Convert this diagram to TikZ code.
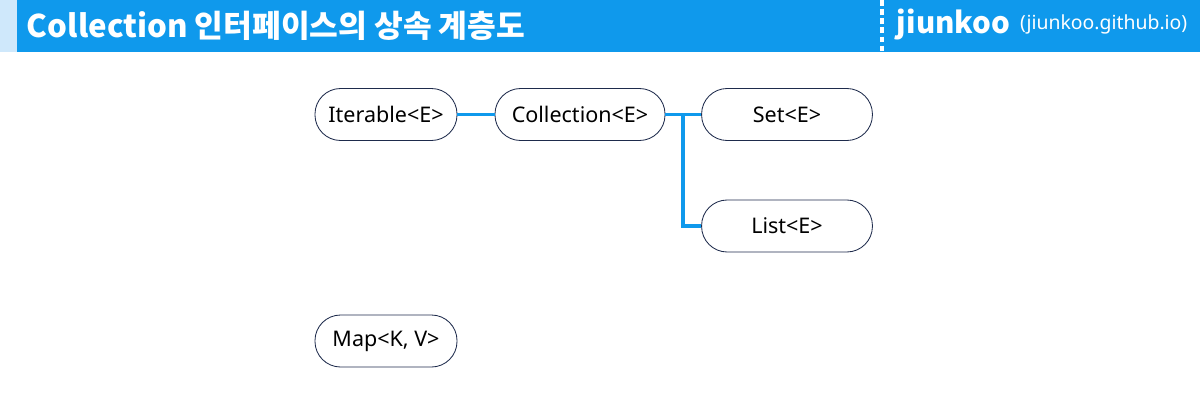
\documentclass[tikz,border=0pt]{standalone}
\usepackage{fontspec}
\setmainfont{Noto Sans}
\newfontfamily\krfont{Noto Sans CJK KR}
\usepackage{tikz}
\definecolor{barblue}{HTML}{0F99EC}
\definecolor{stripblue}{HTML}{CFE8FB}
\definecolor{edgenavy}{HTML}{1E2B4C}

\begin{document}
\begin{tikzpicture}[x=0.025cm, y=-0.025cm,
    ifc/.style = {draw=edgenavy, line width=0.6pt, rounded corners=0.64cm, minimum width=3.55cm, minimum height=1.3cm, font=\fontsize{15.3}{18}\selectfont},
    link/.style = {barblue, line width=2.7pt}]
	\useasboundingbox (0,0) rectangle (1200,414);
	\fill[stripblue] (0,0) rectangle (17,52);
	\fill[barblue] (17,0) rectangle (1200,52);
	\draw[white, line width=2.2pt, dash pattern=on 4pt off 2.5pt] (882,0) -- (882,52);
	\node[anchor=west, text=white, font=\krfont\bfseries\fontsize{22.2}{26}\selectfont] (title) at (22,26) {Collection 인터페이스의 상속 계층도};
	\node[anchor=west, text=white, font=\krfont\bfseries\fontsize{21}{25}\selectfont] (brand) at (892,24) {jiunkoo};
	\node[anchor=west, text=white, font=\fontsize{13.8}{17}\selectfont] (site) at (brand.east) {(jiunkoo.github.io)};
	\node[ifc] (iter) at (386,114.5){Iterable<E>};
	\node[ifc, minimum width=4.25cm] (coll) at (580,114.5){Collection<E>};
	\node[ifc, minimum width=4.27cm] (set) at (787,114.5){Set<E>};
	\node[ifc, minimum width=4.27cm] (list) at (787,226){List<E>};
	\node[ifc] (map) at (386,341){Map<K, V>};
	\coordinate (split) at (683,114.5);
	\draw[link] (iter) -- (coll);
	\draw[link] (coll) -- (set);
	\draw[link] (split) |- (list.west);
\end{tikzpicture}
\end{document}
